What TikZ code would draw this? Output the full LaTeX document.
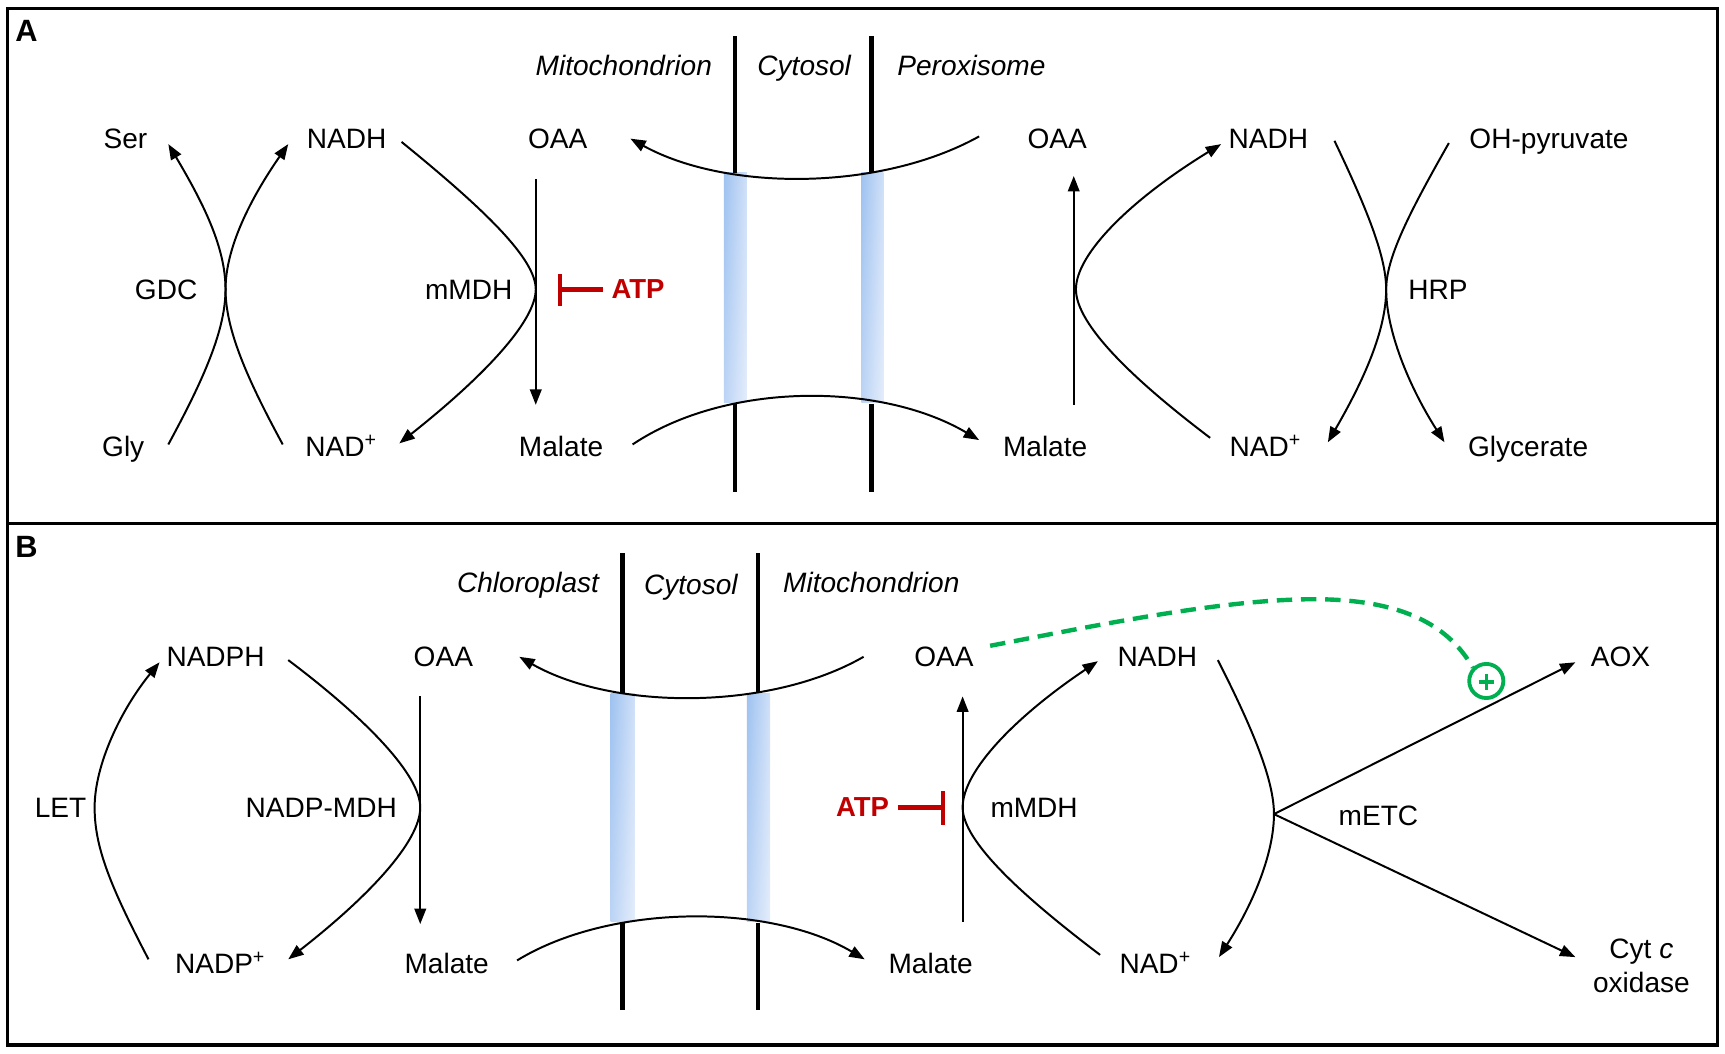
\documentclass[tikz,border=0pt]{standalone}
\usepackage{fontspec}
\setmainfont{Liberation Sans}
\usetikzlibrary{arrows.meta,shadings}
\definecolor{inhred}{RGB}{192,0,0}
\definecolor{actgreen}{RGB}{0,176,80}
\definecolor{chanUL}{RGB}{158,194,240}
\definecolor{chanUR}{RGB}{208,224,248}
\definecolor{chanLL}{RGB}{188,212,245}
\definecolor{chanLR}{RGB}{228,237,251}
\begin{document}
\begin{tikzpicture}[x=1pt,y=-1pt,
 lbl/.style={font=\fontsize{25.5}{31}\selectfont, inner sep=0pt, anchor=base},
 comp/.style={font=\fontsize{25.5}{31}\selectfont\itshape, inner sep=0pt, anchor=base},
 panel/.style={font=\fontsize{28}{32}\selectfont\bfseries, inner sep=0pt, anchor=base},
 atp/.style={font=\fontsize{25}{30}\selectfont\bfseries, text=inhred, inner sep=0pt, anchor=base},
 rx/.style={line width=1.8pt},
 rxa/.style={line width=1.8pt,-{Triangle[length=14pt,width=10.5pt]}},
 memb/.style={line width=4pt},
 frame/.style={line width=3pt},
 chan/.style={upper left=chanUL, upper right=chanUR, lower left=chanLL, lower right=chanLR, draw=none},
 inh/.style={line width=4pt, draw=inhred},
 act/.style={line width=4pt, draw=actgreen, dash pattern=on 14pt off 8pt},
]
\useasboundingbox (0,0) rectangle (1568,958);
% frames
\draw[frame] (7,8) rectangle (1561,476);
\draw[frame] (7,476) rectangle (1561,950);
\node[panel] (pA) at (24,38) {A};
\node[panel] (pB) at (24,507) {B};

%================ PANEL A ================
\shade[chan] (658,157) rectangle (679,366);
\shade[chan] (783,157) rectangle (803,366);
\draw[memb] (668,33) -- (668,157) (668,367) -- (668,447);
\draw[memb] (792,33) -- (792,157) (792,367) -- (792,447);
\node[comp] (cA1) at (567,69) {Mitochondrion};
\node[comp] (cA2) at (731,69) {Cytosol};
\node[comp] (cA3) at (883,69) {Peroxisome};

\node[lbl] (Aser) at (114,135) {Ser};
\node[lbl] (Anadh1) at (315,135) {NADH};
\node[lbl] (Aoaa1) at (507,135) {OAA};
\node[lbl] (Agdc) at (151,272) {GDC};
\node[lbl] (Ammdh) at (426,272) {mMDH};
\node[lbl] (Agly) at (112,415) {Gly};
\node[lbl] (Anad1) at (310,415) {NAD\textsuperscript{+}};
\node[lbl] (Amal1) at (510,415) {Malate};
\node[atp] (Aatp) at (580,271) {ATP};

\node[lbl] (Aoaa2) at (961,135) {OAA};
\node[lbl] (Anadh2) at (1153,135) {NADH};
\node[lbl] (Aohp) at (1408,135) {OH-pyruvate};
\node[lbl] (Ahrp) at (1307,272) {HRP};
\node[lbl] (Amal2) at (950,415) {Malate};
\node[lbl] (Anad2) at (1150,415) {NAD\textsuperscript{+}};
\node[lbl] (Aglyc) at (1389,415) {Glycerate};

% GDC
\coordinate (gdc) at (205,263);
\draw[rxa] (153,404) .. controls (185,345) and (205,300) .. (gdc) .. controls (205,225) and (185,185) .. (153,131);
\draw[rxa] (257,404) .. controls (225,345) and (205,300) .. (gdc) .. controls (205,225) and (228,180) .. (262,131);
% mMDH (A)
\coordinate (mA) at (487,263);
\draw[rxa] (487,163) -- (487,368);
\draw[rxa] (365,129) .. controls (440,190) and (487,235) .. (mA) .. controls (487,292) and (440,342) .. (363,403);
% ATP inhibition A
\draw[inh] (509,249) -- (509,278);
\draw[inh] (509,263) -- (548,263);
% transport A
\draw[rxa] (890,124) .. controls (800,174) and (660,174) .. (573,126);
\draw[rxa] (575,404) .. controls (660,347) and (800,347) .. (890,400);
% peroxisomal MDH
\coordinate (pA1) at (978,263);
\draw[rxa] (976,368) -- (976,160);
\draw[rxa] (1100,398) .. controls (1030,345) and (978,295) .. (pA1) .. controls (978,230) and (1030,180) .. (1110,131);
% HRP
\coordinate (hrp) at (1260,263);
\draw[rxa] (1213,128) .. controls (1245,195) and (1260,235) .. (hrp) .. controls (1260,300) and (1240,345) .. (1207,402);
\draw[rxa] (1317,130) .. controls (1280,195) and (1260,235) .. (hrp) .. controls (1260,300) and (1280,350) .. (1313,402);

%================ PANEL B ================
\shade[chan] (555,630) rectangle (577,838);
\shade[chan] (679,630) rectangle (700,838);
\draw[memb] (566,503) -- (566,630) (566,839) -- (566,918);
\draw[memb] (689,503) -- (689,630) (689,839) -- (689,918);
\node[comp] (cB1) at (480,539) {Chloroplast};
\node[comp] (cB2) at (628,540) {Cytosol};
\node[comp] (cB3) at (792,539) {Mitochondrion};

\node[lbl] (Bnadph) at (196,606) {NADPH};
\node[lbl] (Boaa1) at (403,606) {OAA};
\node[lbl] (Blet) at (55,743) {LET};
\node[lbl] (Bnmdh) at (292,743) {NADP-MDH};
\node[lbl] (Bnadp) at (200,885) {NADP\textsuperscript{+}};
\node[lbl] (Bmal1) at (406,885) {Malate};

\node[lbl] (Boaa2) at (858,606) {OAA};
\node[lbl] (Bnadh) at (1052,606) {NADH};
\node[lbl] (Baox) at (1473,606) {AOX};
\node[atp] (Batp) at (784,742) {ATP};
\node[lbl] (Bmmdh) at (940,743) {mMDH};
\node[lbl] (Bmetc) at (1253,750) {mETC};
\node[lbl] (Bmal2) at (846,885) {Malate};
\node[lbl] (Bnad) at (1050,885) {NAD\textsuperscript{+}};
\node[lbl] (Bcyt) at (1492,871) {Cyt \textit{c}};
\node[lbl] (Boxi) at (1492,902) {oxidase};

% LET
\coordinate (let) at (86,734);
\draw[rxa] (135,872) .. controls (100,805) and (86,770) .. (let) .. controls (86,695) and (110,645) .. (145,602);
% NADP-MDH
\coordinate (nm) at (382,734);
\draw[rxa] (382,633) -- (382,840);
\draw[rxa] (262,600) .. controls (335,655) and (382,705) .. (nm) .. controls (382,765) and (335,815) .. (262,872);
% transport B
\draw[rxa] (785,597) .. controls (700,646) and (558,646) .. (472,597);
\draw[rxa] (470,873) .. controls (555,821) and (700,821) .. (786,872);
% mMDH (B)
\coordinate (mB) at (875,734);
\draw[rxa] (875,838) -- (875,633);
\draw[rxa] (1000,868) .. controls (930,815) and (875,765) .. (mB) .. controls (875,700) and (925,650) .. (998,601);
% ATP inhibition B
\draw[inh] (816,734) -- (857,734);
\draw[inh] (857,719) -- (857,750);
% mETC
\coordinate (etc) at (1158,740);
\draw[rx] (1107,600) .. controls (1140,665) and (1158,710) .. (etc);
\draw[rxa] (etc) .. controls (1158,775) and (1140,820) .. (1108,870);
\draw[rxa] (etc) -- (1432,602);
\draw[rxa] (etc) -- (1432,870);
% OAA activation of AOX
\node[circle, draw=actgreen, line width=3.5pt, minimum size=31pt, inner sep=0pt] (plus) at (1351,619) {};
\draw[actgreen, line width=3pt] (1344,620) -- (1358,620) (1351,613) -- (1351,627);
\draw[act] (900,587) .. controls (1000,568) and (1140,538) .. (1225,546) .. controls (1292,552) and (1322,578) .. (plus.north west);
\end{tikzpicture}
\end{document}
